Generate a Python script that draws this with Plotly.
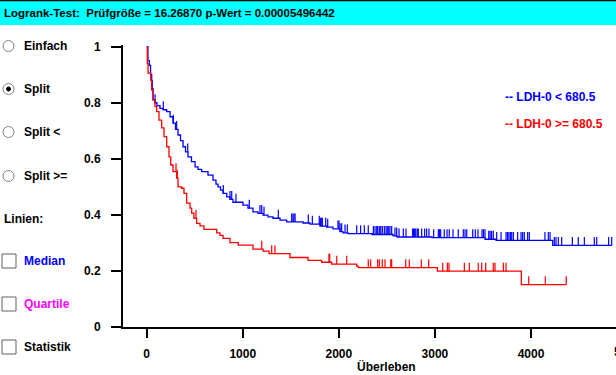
import numpy as np
import plotly.graph_objects as go

# ---------------- data ----------------
blue_times = [13, 27, 40, 52, 66, 86, 107, 138, 170, 208, 243, 274, 300, 326, 352, 378, 404, 430,
              466, 503, 534, 572, 638, 690, 721, 742, 768, 794, 833, 867, 898, 1002, 1054, 1106,
              1158, 1211, 1263, 1315, 1388, 1457, 1627, 1700, 1804, 1873, 1939, 2012, 2043, 2095,
              2345, 2564, 2605, 2970, 3522, 3636, 4226]
blue_surv = [0.95, 0.933, 0.90, 0.85, 0.81, 0.80, 0.79, 0.78, 0.775, 0.768, 0.75, 0.727, 0.705,
             0.685, 0.665, 0.643, 0.625, 0.607, 0.59, 0.571, 0.562, 0.554, 0.542, 0.524, 0.51,
             0.50, 0.488, 0.477, 0.464, 0.455, 0.445, 0.435, 0.424, 0.411, 0.405, 0.399, 0.393,
             0.388, 0.381, 0.375, 0.371, 0.367, 0.36, 0.356, 0.35, 0.34, 0.336, 0.333, 0.33,
             0.325, 0.321, 0.319, 0.313, 0.309, 0.291]
blue_cens = [58, 87, 173, 277, 312, 427, 797, 867, 885, 929, 1068, 1179, 1197, 1221, 1370, 1509,
             1523, 1533, 1544, 1682, 1724, 1796, 1807, 1817, 1828, 1863, 1884, 1991, 2001, 2012,
             2029, 2064, 2088, 2186, 2227, 2265, 2306, 2359, 2376, 2394, 2404, 2421, 2436, 2452,
             2473, 2491, 2504, 2519, 2532, 2550, 2584, 2602, 2626, 2671, 2699, 2768, 2778, 2789,
             2800, 2816, 2827, 2862, 2893, 2914, 2938, 2987, 3035, 3047, 3060, 3097, 3126, 3149,
             3188, 3243, 3295, 3313, 3331, 3393, 3420, 3448, 3490, 3505, 3521, 3560, 3574, 3589,
             3607, 3643, 3688, 3740, 3755, 3770, 3785, 3799, 3816, 3861, 3896, 3913, 3930, 3965,
             3982, 4145, 4180, 4198, 4242, 4260, 4284, 4319, 4430, 4492, 4555, 4659, 4684, 4808,
             4840]

red_times = [6, 14, 42, 52, 66, 86, 104, 128, 156, 180, 208, 232, 250, 274, 312, 326, 364, 388,
             416, 451, 468, 492, 520, 555, 596, 729, 763, 794, 867, 953, 1106, 1211, 1273, 1491,
             1679, 1821, 1925, 2186, 2202, 3025, 3899]
red_surv = [0.94, 0.906, 0.88, 0.845, 0.81, 0.786, 0.768, 0.738, 0.71, 0.679, 0.643, 0.607, 0.578,
            0.554, 0.531, 0.50, 0.495, 0.477, 0.442, 0.424, 0.406, 0.388, 0.37, 0.361, 0.348,
            0.336, 0.327, 0.316, 0.301, 0.292, 0.278, 0.271, 0.262, 0.248, 0.238, 0.231, 0.224,
            0.217, 0.212, 0.199, 0.151]
red_cens = [305, 318, 513, 1197, 1301, 1335, 1897, 1905, 1978, 2082, 2306, 2331, 2404, 2421, 2452,
            2480, 2540, 2550, 2696, 2733, 2858, 2935, 3081, 3129, 3146, 3306, 3358, 3451, 3487,
            3528, 3607, 3625, 3712, 3740, 3976, 4149, 4367]

x_ticks = [0, 1000, 2000, 3000, 4000]
x_tick_text = ["0", "1000", "2000", "3000", "4000"]
y_ticks = [0, 0.2, 0.4, 0.6, 0.8, 1]
y_tick_text = ["0", "0.2", "0.4", "0.6", "0.8", "1"]

title_text = "Logrank-Test:  Prüfgröße = 16.26870 p-Wert = 0.00005496442"
legend_blue = "-- LDH-0 < 680.5"
legend_red = "-- LDH-0 >= 680.5"
radio_labels = ["Einfach", "Split", "Split <", "Split >="]
check_labels = ["Median", "Quartile", "Statistik"]
check_colors = ["#0000FF", "#FF00FF", "#000000"]

BLUE = "#0000FF"
RED = "#FF0000"
FONT = "Liberation Sans, Arial, sans-serif"

# ---------------- geometry ----------------
W, H = 616, 375
L, R, T, B = 123, 0, 45, 48
PW, PH = W - L - R, H - T - B


def px(xp):
    return (xp - L) / PW


def py(yp):
    return (H - B - yp) / PH


def step_xy(times, surv, cens):
    end = max(max(times), max(cens))
    xs = [0] + list(times) + [end]
    ys = [1.0] + list(surv) + [surv[-1]]
    return xs, ys


def cens_segments(times, surv, cens, h=0.03):
    t = np.array(times)
    s = np.array(surv)
    xs, ys = [], []
    for c in cens:
        i = np.searchsorted(t, c, side="right")
        val = 1.0 if i == 0 else s[i - 1]
        xs += [c, c, None]
        ys += [val, val + h, None]
    return xs, ys


fig = go.Figure()
for times, surv, cens, col in [(blue_times, blue_surv, blue_cens, BLUE),
                               (red_times, red_surv, red_cens, RED)]:
    xs, ys = step_xy(times, surv, cens)
    fig.add_trace(go.Scatter(x=xs, y=ys, mode="lines", line=dict(color=col, width=1.3, shape="hv"),
                             showlegend=False, hoverinfo="skip"))
    cx, cy = cens_segments(times, surv, cens)
    fig.add_trace(go.Scatter(x=cx, y=cy, mode="lines", line=dict(color=col, width=1.2),
                             showlegend=False, hoverinfo="skip"))

fig.update_layout(
    width=W, height=H,
    margin=dict(l=L, r=R, t=T, b=B),
    paper_bgcolor="white", plot_bgcolor="white",
    font=dict(family=FONT, size=12, color="black"),
    showlegend=False,
)
fig.update_xaxes(
    range=[-246.7, 4884.5], showgrid=False, zeroline=False,
    showline=True, linecolor="black", linewidth=2,
    ticks="outside", ticklen=9, tickwidth=2, tickcolor="black",
    tickvals=x_ticks, ticktext=x_tick_text,
    tickfont=dict(family=FONT, size=12, color="black", weight="bold"),
    ticklabelstandoff=6,
)
fig.update_yaxes(
    range=[0, 1.006], showgrid=False, zeroline=False,
    showline=True, linecolor="black", linewidth=2,
    ticks="outside", ticklen=10, tickwidth=2, tickcolor="black",
    tickvals=y_ticks, ticktext=y_tick_text,
    tickfont=dict(family=FONT, size=12, color="black", weight="bold"),
    ticklabelstandoff=8,
)

shapes = []
annotations = []

# title bar
shapes.append(dict(type="rect", xref="paper", yref="paper", x0=px(0), x1=px(W), y0=py(25), y1=py(1),
                   fillcolor="#00FFFF", line=dict(width=0), layer="above"))
shapes.append(dict(type="line", xref="paper", yref="paper", x0=px(0), x1=px(W), y0=py(0.5), y1=py(0.5),
                   line=dict(color="black", width=1.5), layer="above"))
annotations.append(dict(text="<b>" + title_text + "</b>", xref="paper", yref="paper",
                        x=px(2), y=py(13), xanchor="left", yanchor="middle", showarrow=False,
                        font=dict(family=FONT, size=11.5, color="black")))

# radio buttons
radio_y = [46, 89, 132, 176]
for i, (lab, yy) in enumerate(zip(radio_labels, radio_y)):
    shapes.append(dict(type="circle", xref="paper", yref="paper",
                       x0=px(3), x1=px(14), y0=py(yy + 5.5), y1=py(yy - 5.5),
                       line=dict(color="#808080", width=1), fillcolor="white", layer="above"))
    if lab == "Split":
        shapes.append(dict(type="circle", xref="paper", yref="paper",
                           x0=px(6.5), x1=px(10.5), y0=py(yy + 2), y1=py(yy - 2),
                           line=dict(color="black", width=1), fillcolor="black", layer="above"))
    annotations.append(dict(text="<b>" + lab + "</b>", xref="paper", yref="paper",
                            x=px(22), y=py(yy), xanchor="left", yanchor="middle", showarrow=False,
                            font=dict(family=FONT, size=12, color="black")))

annotations.append(dict(text="<b>Linien:</b>", xref="paper", yref="paper",
                        x=px(2), y=py(219), xanchor="left", yanchor="middle", showarrow=False,
                        font=dict(family=FONT, size=12, color="black")))

check_y = [261, 304, 347]
for lab, col, yy in zip(check_labels, check_colors, check_y):
    shapes.append(dict(type="rect", xref="paper", yref="paper",
                       x0=px(2), x1=px(16), y0=py(yy + 7), y1=py(yy - 7),
                       line=dict(color="#606060", width=1), fillcolor="white", layer="above"))
    annotations.append(dict(text="<b>" + lab + "</b>", xref="paper", yref="paper",
                            x=px(22), y=py(yy), xanchor="left", yanchor="middle", showarrow=False,
                            font=dict(family=FONT, size=12, color=col)))

# legend texts
annotations.append(dict(text="<b>" + legend_blue + "</b>", xref="paper", yref="paper",
                        x=px(503), y=py(97), xanchor="left", yanchor="middle", showarrow=False,
                        font=dict(family=FONT, size=12, color=BLUE)))
annotations.append(dict(text="<b>" + legend_red + "</b>", xref="paper", yref="paper",
                        x=px(503), y=py(124), xanchor="left", yanchor="middle", showarrow=False,
                        font=dict(family=FONT, size=12, color=RED)))

# axis title and clipped 5000 label
annotations.append(dict(text="<b>Überleben</b>", xref="paper", yref="paper",
                        x=px(386), y=py(366), xanchor="center", yanchor="middle", showarrow=False,
                        font=dict(family=FONT, size=12, color="black")))
annotations.append(dict(text="<b>5000</b>", xref="paper", yref="paper",
                        x=px(627), y=py(352), xanchor="center", yanchor="middle", showarrow=False,
                        font=dict(family=FONT, size=12, color="black")))

fig.update_layout(shapes=shapes, annotations=annotations)
fig.write_html(
    "out.html",
    config={"displayModeBar": False},
    post_script="document.body.style.margin='0';document.body.style.overflow='hidden';",
)
